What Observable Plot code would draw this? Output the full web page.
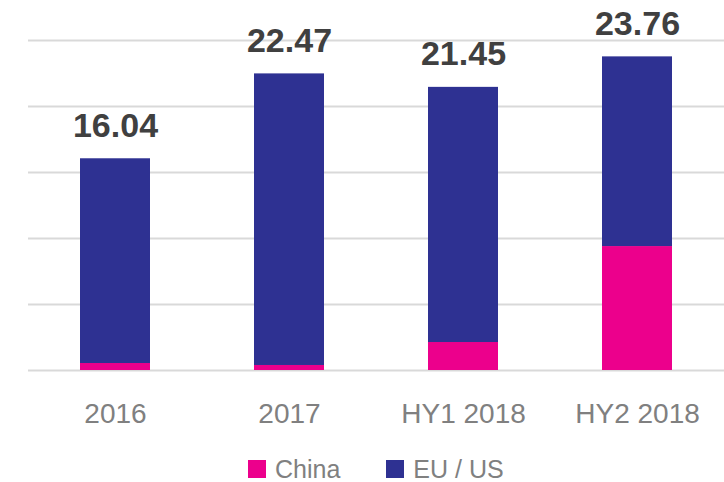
<!DOCTYPE html>
<html>
<head>
<meta charset="utf-8">
<script src="https://cdn.jsdelivr.net/npm/d3@7"></script>
<script src="https://cdn.jsdelivr.net/npm/@observablehq/plot@0.6"></script>
<style>
  html, body { margin: 0; padding: 0; background: #fff; overflow: hidden; }
  #chart { width: 724px; }
  .legend { display: flex; align-items: center; height: 26px; padding-top: 16px; font-family: "Liberation Sans", Arial, sans-serif; font-size: 25px; line-height: 26px; color: #808080; }
  .legend .sw { width: 18px; height: 18px; display: inline-block; margin-right: 9px; }
  .legend .item { display: flex; align-items: center; }
</style>
</head>
<body>
<div id="chart"></div>
<script>
const categories = ["2016", "2017", "HY1 2018", "HY2 2018"];
const seriesNames = ["China", "EU / US"];
const china = [0.53, 0.38, 2.12, 9.39];
const euUs = [15.51, 22.09, 19.33, 14.37];
const totals = [16.04, 22.47, 21.45, 23.76];
const totalLabels = ["16.04", "22.47", "21.45", "23.76"];
const yTicks = [0, 5, 10, 15, 20, 25];
const colors = ["#EC008C", "#2E3192"];

const rows = [];
categories.forEach((c, i) => rows.push({cat: c, series: seriesNames[0], value: china[i]}));
categories.forEach((c, i) => rows.push({cat: c, series: seriesNames[1], value: euUs[i]}));
const totalRows = categories.map((c, i) => ({cat: c, total: totals[i], label: totalLabels[i]}));

const plot = Plot.plot({
  width: 724,
  height: 440,
  marginLeft: 28,
  marginRight: 0,
  marginTop: 40,
  marginBottom: 70,
  style: {fontFamily: "'Liberation Sans', Arial, sans-serif", background: "#fff"},
  x: {domain: categories, paddingInner: 0.6, paddingOuter: 0.3, label: null},
  y: {domain: [0, 25], label: null, axis: null},
  color: {domain: seriesNames, range: colors},
  marks: [
    Plot.gridY(yTicks, {stroke: "#d9d9d9", strokeOpacity: 1, strokeWidth: 2}),
    Plot.barY(rows, {x: "cat", y: "value", fill: "series", order: seriesNames, inset: 0}),
    Plot.text(totalRows, {x: "cat", y: "total", text: "label", lineAnchor: "bottom", dy: -22, fontSize: 34, fontWeight: "bold", fill: "#404040"}),
    Plot.axisX({tickSize: 0, tickPadding: 33, fontSize: 28, color: "#808080", label: null})
  ]
});
plot.style.display = "block";
document.getElementById("chart").appendChild(plot);

const legend = document.createElement("div");
legend.className = "legend";
legend.style.paddingLeft = "248px";
seriesNames.forEach((name, i) => {
  const item = document.createElement("div");
  item.className = "item";
  if (i > 0) item.style.marginLeft = "46px";
  const sw = document.createElement("span");
  sw.className = "sw";
  sw.style.background = colors[i];
  const t = document.createElement("span");
  t.textContent = name;
  item.appendChild(sw);
  item.appendChild(t);
  legend.appendChild(item);
});
document.getElementById("chart").appendChild(legend);
</script>
</body>
</html>
